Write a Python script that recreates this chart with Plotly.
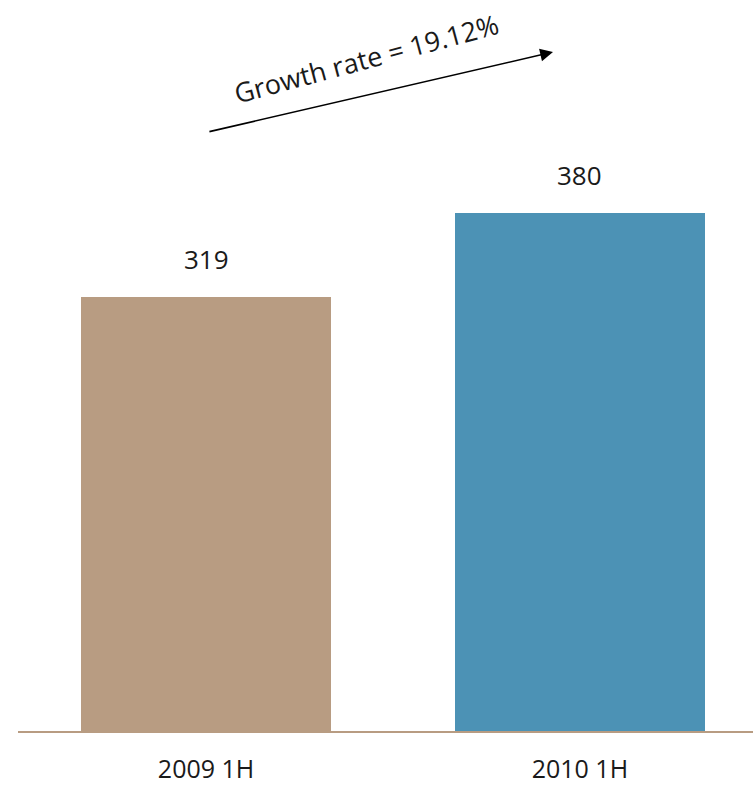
import plotly.graph_objects as go

# Half-year totals
periods = ["2009 1H", "2010 1H"]
values = [319, 380]
bar_colors = ["#B89C82", "#4C92B5"]
growth_label = "Growth rate = 19.12%"

FONT = "Open Sans"
TEXT_COLOR = "#1a1a1a"
FONT_SIZE = 26

fig = go.Figure(
    go.Bar(
        x=[0, 1],
        y=values,
        marker=dict(color=bar_colors, line=dict(width=0)),
        width=0.668,
        hoverinfo="skip",
    )
)

# Value labels above each bar
for i, v in enumerate(values):
    fig.add_annotation(
        x=i, y=v, text=str(v), showarrow=False,
        xref="x", yref="y", yanchor="bottom", yshift=18,
        font=dict(family=FONT, size=FONT_SIZE, color=TEXT_COLOR),
    )

# Growth arrow and its rotated caption
fig.add_annotation(
    x=0.928, y=498.5, ax=0.005, ay=439.8,
    xref="x", yref="y", axref="x", ayref="y",
    text="", showarrow=True, arrowhead=2, arrowsize=1.6,
    arrowwidth=1.6, arrowcolor="#000000",
)
fig.add_annotation(
    x=0.427, y=494, xref="x", yref="y", text=growth_label,
    showarrow=False, textangle=-15,
    font=dict(family=FONT, size=27, color=TEXT_COLOR),
)

fig.update_layout(
    width=753, height=786,
    margin=dict(l=18, r=0, t=0, b=55),
    paper_bgcolor="white", plot_bgcolor="white",
    showlegend=False,
    bargap=0,
    xaxis=dict(
        range=[-0.503, 1.463],
        tickmode="array", tickvals=[0, 1], ticktext=periods,
        showgrid=False, zeroline=False, automargin=False,
        showline=True, linecolor="#B89C82", linewidth=2,
        ticks="", ticklabelstandoff=15,
        tickfont=dict(family=FONT, size=25, color=TEXT_COLOR),
    ),
    yaxis=dict(
        range=[0, 536.7], visible=False, showgrid=False, zeroline=False,
        automargin=False,
    ),
)

fig.write_html("out.html")
